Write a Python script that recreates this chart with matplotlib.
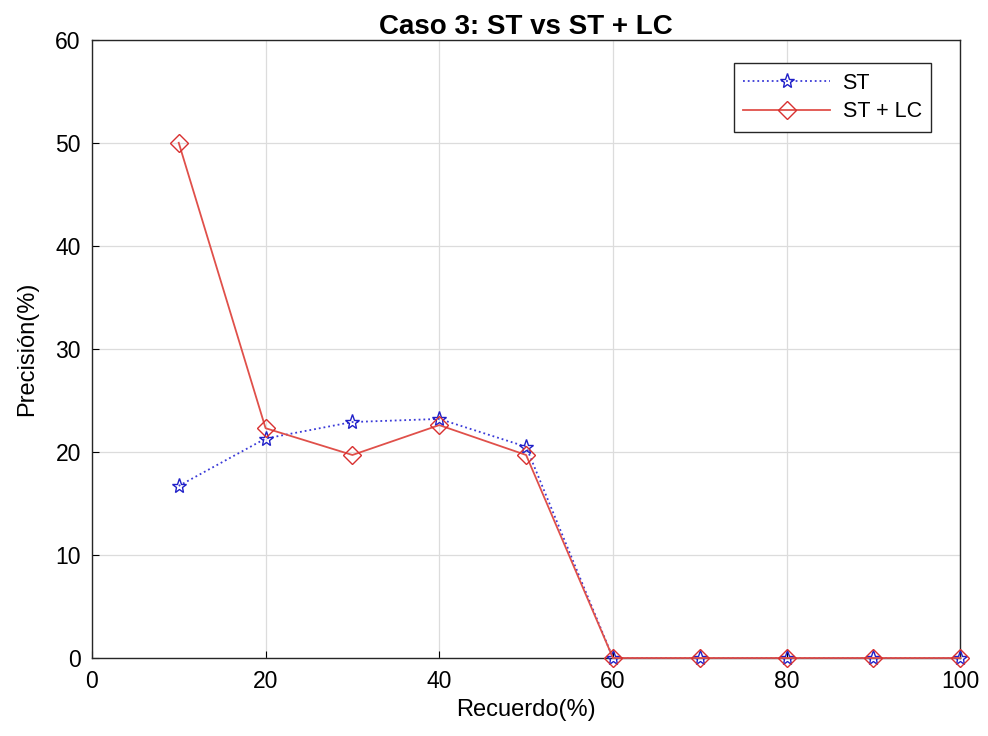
import matplotlib
matplotlib.use("Agg")
import matplotlib.pyplot as plt

recall = [10, 20, 30, 40, 50, 60, 70, 80, 90, 100]
st = [16.7, 21.3, 22.9, 23.2, 20.5, 0, 0, 0, 0, 0]
st_lc = [50.0, 22.3, 19.7, 22.6, 19.7, 0, 0, 0, 0, 0]
xticks = [0, 20, 40, 60, 80, 100]
yticks = [0, 10, 20, 30, 40, 50, 60]

plt.rcParams['font.family'] = ['Liberation Sans', 'DejaVu Sans']

fig = plt.figure(figsize=(9.88, 7.36), dpi=100)
ax = fig.add_axes([0.093, 0.106, 0.879, 0.840])

ax.plot(recall, st, color='#3a3ad8', linestyle=':', linewidth=1.3, marker='*',
        markersize=11, markerfacecolor='none', markeredgecolor='#2020c8', label='ST',
        zorder=3, clip_on=False)
ax.plot(recall, st_lc, color='#e0504a', linestyle='-', linewidth=1.3, marker='D',
        markersize=9, markerfacecolor='none', markeredgecolor='#d83030', label='ST + LC',
        zorder=4, clip_on=False)

ax.set_xlim(0, 100)
ax.set_ylim(0, 60)
ax.set_xticks(xticks)
ax.set_yticks(yticks)
ax.tick_params(direction='in', labelsize=16.5, length=5, top=False, right=False)
ax.tick_params(axis='x', pad=9)
ax.tick_params(axis='y', pad=8)
ax.grid(True, color='#dcdcdc', linewidth=0.9)
ax.set_axisbelow(True)
for s in ax.spines.values():
    s.set_color('#262626')
    s.set_linewidth(1.0)

ax.set_xlabel('Recuerdo(%)', fontsize=17, labelpad=4)
ax.set_ylabel('Precisión(%)', fontsize=17, labelpad=12)
ax.set_title('Caso 3: ST vs ST + LC', fontsize=20, fontweight='bold', pad=2)

leg = ax.legend(loc='upper right', bbox_to_anchor=(0.979, 0.98), fontsize=15.5, fancybox=False,
                edgecolor='#262626', framealpha=1, handlelength=4.0, borderpad=0.45,
                labelspacing=0.35, handletextpad=0.6)
leg.get_frame().set_linewidth(1.0)

fig.savefig('out.png', dpi=100)
